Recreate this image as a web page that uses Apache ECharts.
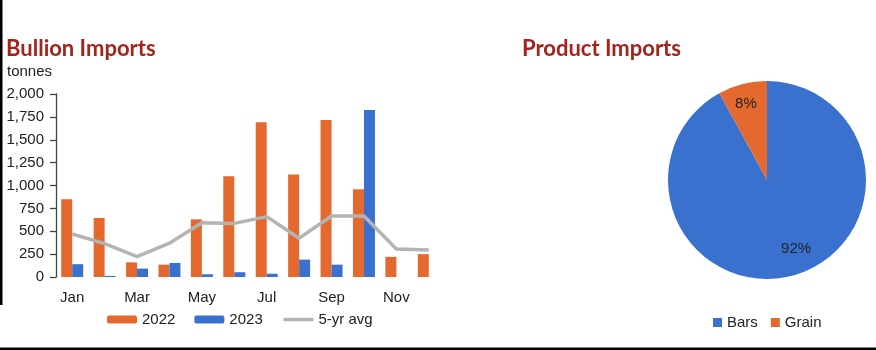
<!DOCTYPE html>
<html>
<head>
<meta charset="utf-8">
<script src="https://cdn.jsdelivr.net/npm/echarts@6/dist/echarts.min.js"></script>
<style>
  html, body { margin: 0; padding: 0; background: #fff; }
  #chart { width: 876px; height: 350px; }
</style>
</head>
<body>
<div id="chart"></div>
<script>
// Monthly bullion imports, tonnes
const months = ['Jan','Feb','Mar','Apr','May','Jun','Jul','Aug','Sep','Oct','Nov','Dec'];
const imports2022 = [850, 645, 160, 135, 630, 1100, 1690, 1120, 1715, 960, 220, 250];
const imports2023 = [140, 12, 92, 153, 30, 52, 36, 190, 135, 1825, null, null];
const avg5yr = [470, 365, 222, 370, 592, 586, 660, 423, 667, 667, 305, 295];
const yTicks = [0, 250, 500, 750, 1000, 1250, 1500, 1750, 2000];

// Product mix, share of imports (%)
const productNames = ['Bars', 'Grain'];
const productShares = [92, 8];

const ORANGE = '#E4692F';
const BLUE = '#3A71CF';
const GREY = '#B4B4B4';
const TITLE_RED = '#A3241B';
const TEXT = '#222';
const FONT = 'Liberation Sans, Arial, sans-serif';

const chart = echarts.init(document.getElementById('chart'), null, { renderer: 'canvas' });

const titleStyle = { fontFamily: 'Lato, sans-serif', fontWeight: 'bold', fontSize: 22, color: TITLE_RED };

chart.setOption({
  backgroundColor: '#ffffff',
  animation: false,
  textStyle: { fontFamily: FONT, color: TEXT },
  title: [
    { text: 'Bullion Imports', left: 6, top: 38, padding: 0, textStyle: titleStyle },
    { text: 'Product Imports', left: 522, top: 38, padding: 0, textStyle: titleStyle },
    { text: 'tonnes', left: 7, top: 64, padding: 0,
      textStyle: { fontFamily: FONT, fontWeight: 'normal', fontSize: 15, color: TEXT } }
  ],
  legend: [
    { data: ['2022', '2023',
        { name: '5-yr avg', itemStyle: { opacity: 0 }, lineStyle: { width: 3.5, color: GREY } }],
      left: 107, top: 312, padding: 0, orient: 'horizontal',
      itemWidth: 30, itemHeight: 8, itemGap: 19,
      textStyle: { fontFamily: FONT, fontSize: 15, color: TEXT } },
    { data: productNames, left: 713, top: 315, padding: 0, icon: 'rect',
      itemWidth: 9, itemHeight: 9, itemGap: 13,
      textStyle: { fontFamily: FONT, fontSize: 15, color: TEXT } }
  ],
  grid: { left: 56, top: 94, width: 389, bottom: 73, containLabel: false },
  xAxis: {
    type: 'category', data: months,
    axisLine: { show: false }, axisTick: { show: false },
    axisLabel: { interval: 1, margin: 13, fontSize: 15, color: TEXT, fontFamily: FONT }
  },
  yAxis: {
    type: 'value', min: yTicks[0], max: yTicks[yTicks.length - 1], interval: yTicks[1] - yTicks[0],
    axisLine: { show: true, lineStyle: { color: '#444', width: 1.3 } },
    axisTick: { show: true, length: 6, lineStyle: { color: '#444', width: 1.3 } },
    splitLine: { show: false },
    axisLabel: { margin: 12, fontSize: 15, color: TEXT, fontFamily: FONT,
      formatter: v => v.toLocaleString('en-US') }
  },
  series: [
    { name: '2022', type: 'bar', data: imports2022, barWidth: 11, barGap: '0%',
      itemStyle: { color: ORANGE } },
    { name: '2023', type: 'bar', data: imports2023, barWidth: 11, barGap: '0%',
      itemStyle: { color: BLUE } },
    { name: '5-yr avg', type: 'line', data: avg5yr, symbol: 'none', z: 5,
      lineStyle: { color: GREY, width: 3.5 }, itemStyle: { color: GREY } },
    { name: 'Product Imports', type: 'pie', center: [767, 180], radius: 99,
      startAngle: 90, clockwise: true,
      data: productNames.map((n, i) => ({ name: n, value: productShares[i] })),
      color: [BLUE, ORANGE],
      label: { show: true, position: 'inside', formatter: '{c}%',
        fontFamily: FONT, fontSize: 15, color: TEXT },
      labelLine: { show: false },
      labelLayout: p => (p.dataIndex === 1 ? { dx: -8, dy: -25 } : { dx: 16, dy: 18 }),
      itemStyle: { borderWidth: 0 },
      emphasis: { disabled: true } }
  ],
  graphic: [
    { type: 'rect', left: 0, top: 0, shape: { width: 2.5, height: 305 }, style: { fill: '#000' } },
    { type: 'rect', left: 0, top: 347.5, shape: { width: 876, height: 2.5 }, style: { fill: '#000' } }
  ]
});
</script>
</body>
</html>
